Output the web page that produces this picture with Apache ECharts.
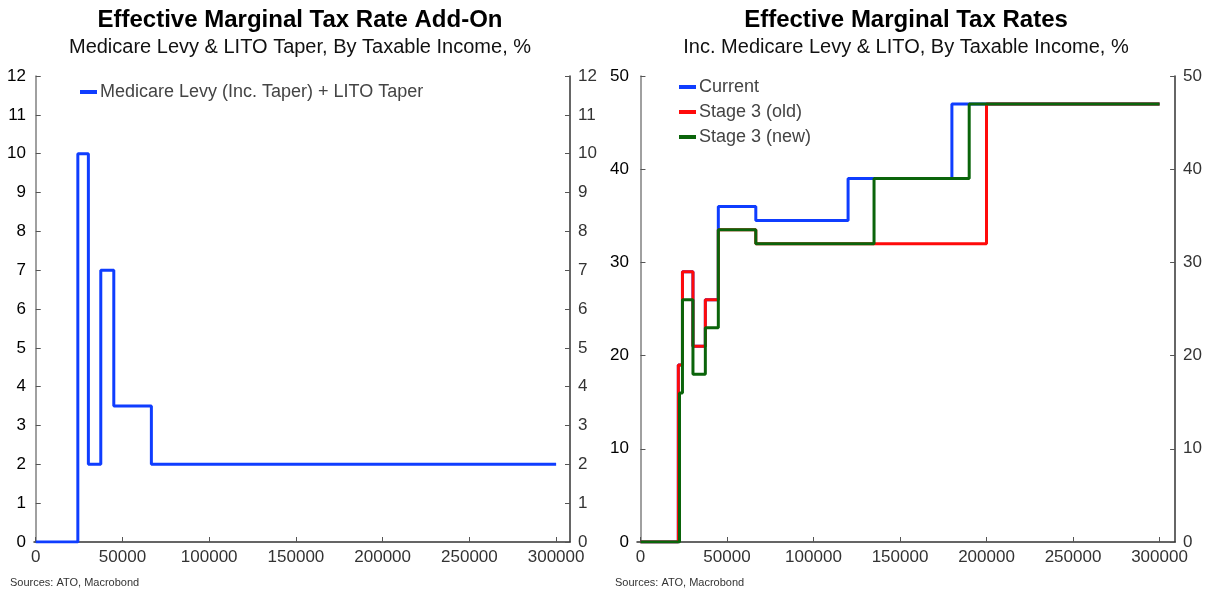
<!DOCTYPE html>
<html>
<head>
<meta charset="utf-8">
<script src="https://cdn.jsdelivr.net/npm/echarts@6/dist/echarts.min.js"></script>
<style>html,body{margin:0;padding:0;background:#fff}#c{width:1205px;height:592px}</style>
</head>
<body>
<div id="c"></div>
<script>
// ---- data ----
var xTicks = [0, 50000, 100000, 150000, 200000, 250000, 300000];
var leftYTicks = [0,1,2,3,4,5,6,7,8,9,10,11,12];
var rightYTicks = [0,10,20,30,40,50];

var levyIncome = [0, 24276, 30345, 37500, 45000, 66667, 300000];
var levyRate   = [0, 10, 2, 7, 3.5, 2, 2];

var currentIncome = [0, 21884, 24276, 30345, 37500, 45000, 66667, 120000, 180000, 300000];
var currentRate   = [0, 19, 29, 21, 26, 36, 34.5, 39, 47, 47];

var oldIncome = [0, 21884, 24276, 30345, 37500, 45000, 66667, 200000, 300000];
var oldRate   = [0, 19, 29, 21, 26, 33.5, 32, 47, 47];

var newIncome = [0, 22575, 24276, 30345, 37500, 45000, 66667, 135000, 190000, 300000];
var newRate   = [0, 16, 26, 18, 23, 33.5, 32, 39, 47, 47];

function pairs(xs, ys){ return xs.map(function(x,i){ return [x, ys[i]]; }); }

var FONT = '"Liberation Sans", Arial, sans-serif';
var BLUE = '#0f3dff', RED = '#ff0a0a', GREEN = '#0a640a';

function xAxis(gi, min, max){
  return {
    type:'value', gridIndex:gi, min:min, max:max,
    axisLine:{show:true, onZero:false, lineStyle:{color:'#333', width:1.5}},
    axisTick:{show:true, inside:true, length:5, customValues:xTicks, lineStyle:{color:'#555'}},
    axisLabel:{customValues:xTicks, color:'#333', fontSize:17, fontFamily:FONT, margin:7,
      formatter:function(v){ return String(v); }},
    splitLine:{show:false}
  };
}
function yAxis(gi, pos, max, interval, ticks, color, lineColor){
  return {
    type:'value', gridIndex:gi, position:pos, min:0, max:max, interval:interval,
    axisLine:{show:true, lineStyle:{color:lineColor, width:1.5}},
    axisTick:{show:true, inside:true, length:5, lineStyle:{color:'#555'}},
    axisLabel:{color:color, fontSize:17, fontFamily:FONT, margin:8,
      formatter:function(v){ return ticks.indexOf(v) >= 0 ? String(v) : ''; }},
    splitLine:{show:false}
  };
}

var chart = echarts.init(document.getElementById('c'), null, {renderer:'canvas'});
chart.setOption({
  backgroundColor:'#fff',
  animation:false,
  title:[
    {text:'Effective Marginal Tax Rate Add-On', left:300, top:8, textAlign:'center', padding:0,
      textStyle:{fontSize:24, fontWeight:'bold', color:'#000', fontFamily:FONT}},
    {text:'Medicare Levy & LITO Taper, By Taxable Income, %', left:300, top:37, textAlign:'center', padding:0,
      textStyle:{fontSize:20, fontWeight:'normal', color:'#111', fontFamily:FONT}},
    {text:'Effective Marginal Tax Rates', left:906, top:8, textAlign:'center', padding:0,
      textStyle:{fontSize:24, fontWeight:'bold', color:'#000', fontFamily:FONT}},
    {text:'Inc. Medicare Levy & LITO, By Taxable Income, %', left:906, top:37, textAlign:'center', padding:0,
      textStyle:{fontSize:20, fontWeight:'normal', color:'#111', fontFamily:FONT}},
    {text:'Sources: ATO, Macrobond', left:10, top:577, padding:0,
      textStyle:{fontSize:11, fontWeight:'normal', color:'#333', fontFamily:FONT}},
    {text:'Sources: ATO, Macrobond', left:615, top:577, padding:0,
      textStyle:{fontSize:11, fontWeight:'normal', color:'#333', fontFamily:FONT}}
  ],
  legend:[
    {data:['Medicare Levy (Inc. Taper) + LITO Taper'], left:80, top:83, padding:0,
      icon:'rect', itemWidth:17, itemHeight:4, itemGap:4,
      textStyle:{fontSize:18, color:'#444', fontFamily:FONT, padding:[0,0,0,-2]}},
    {data:['Current','Stage 3 (old)','Stage 3 (new)'], left:679, top:78, orient:'vertical', padding:0,
      icon:'rect', itemWidth:17, itemHeight:4, itemGap:7,
      textStyle:{fontSize:18, color:'#444', fontFamily:FONT, padding:[0,0,0,-2]}}
  ],
  grid:[
    {left:34, top:76, width:536, height:466, containLabel:false},
    {left:637, top:76, width:539, height:466, containLabel:false}
  ],
  xAxis:[ xAxis(0, -1000, 308000), xAxis(1, -2000, 309000) ],
  yAxis:[
    yAxis(0, 'left', 12, 1, leftYTicks, '#000', '#808080'),
    yAxis(0, 'right', 12, 1, leftYTicks, '#333', '#333'),
    yAxis(1, 'left', 50, 10, rightYTicks, '#000', '#808080'),
    yAxis(1, 'right', 50, 10, rightYTicks, '#333', '#333')
  ],
  series:[
    {name:'Medicare Levy (Inc. Taper) + LITO Taper', type:'line', step:'end', xAxisIndex:0, yAxisIndex:0,
      data:pairs(levyIncome, levyRate), showSymbol:false, lineStyle:{color:BLUE, width:3}, itemStyle:{color:BLUE}},
    {name:'Current', type:'line', step:'end', xAxisIndex:1, yAxisIndex:2,
      data:pairs(currentIncome, currentRate), showSymbol:false, lineStyle:{color:BLUE, width:3}, itemStyle:{color:BLUE}, z:2},
    {name:'Stage 3 (old)', type:'line', step:'end', xAxisIndex:1, yAxisIndex:2,
      data:pairs(oldIncome, oldRate), showSymbol:false, lineStyle:{color:RED, width:3}, itemStyle:{color:RED}, z:3},
    {name:'Stage 3 (new)', type:'line', step:'end', xAxisIndex:1, yAxisIndex:2,
      data:pairs(newIncome, newRate), showSymbol:false, lineStyle:{color:GREEN, width:3}, itemStyle:{color:GREEN}, z:4}
  ]
});
</script>
</body>
</html>
